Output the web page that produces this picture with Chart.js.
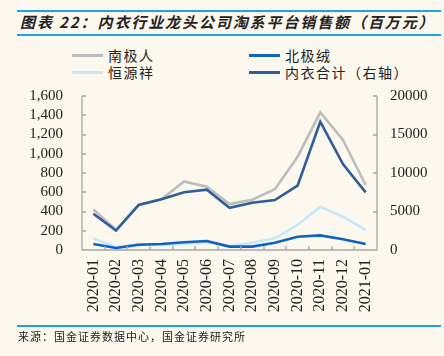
<!DOCTYPE html>
<html>
<head>
<meta charset="utf-8">
<script src="https://cdn.jsdelivr.net/npm/chart.js@4/dist/chart.umd.min.js"></script>
<style>
  html, body { margin:0; padding:0; }
  body { width:444px; height:356px; background:#FCF8EE; position:relative; overflow:hidden; font-family:"Noto Sans CJK SC", sans-serif; }
  #wrap { position:absolute; left:0; top:0; width:444px; height:356px; }
  .rule { position:absolute; left:17px; width:424px; height:2px; background:#1AA3E8; }
  #title { position:absolute; left:20px; top:12px; font-size:15px; font-weight:bold; font-style:italic; letter-spacing:1.9px; color:#222; white-space:nowrap; line-height:20px; }
  #legend { position:absolute; left:0; top:0; }
  .lg { position:absolute; height:16px; display:flex; align-items:center; white-space:nowrap; font-size:14px; letter-spacing:1.5px; color:#222; }
  .lg span.sw { display:inline-block; width:31px; height:3px; margin-right:5px; }
  #source { position:absolute; left:18px; top:328px; font-size:11px; letter-spacing:1px; color:#222; white-space:nowrap; line-height:16px; }
</style>
</head>
<body>
<div class="rule" style="top:10px"></div>
<div id="title">图表 22：内衣行业龙头公司淘系平台销售额（百万元）</div>
<div class="rule" style="top:34px"></div>
<div id="legend"></div>
<div id="wrap"><canvas id="c" width="444" height="356"></canvas></div>
<div class="rule" style="top:325px"></div>
<div id="source">来源：国金证券数据中心，国金证券研究所</div>
<script>
const categories = ['2020-01','2020-02','2020-03','2020-04','2020-05','2020-06','2020-07','2020-08','2020-09','2020-10','2020-11','2020-12','2021-01'];
const seriesNames = ['南极人','北极绒','恒源祥','内衣合计（右轴）'];
const nanjiren = [420, 210, 470, 528, 712, 658, 478, 522, 632, 968, 1430, 1143, 676];
const beijirong = [62, 21, 55, 62, 80, 94, 35, 35, 76, 138, 152, 111, 62];
const hengyuanxiang = [121, 30, 62, 50, 62, 80, 42, 76, 121, 260, 450, 346, 208];
const neiyiTotal = [4700, 2520, 5850, 6580, 7490, 7840, 5480, 6140, 6490, 8360, 16660, 11170, 7490];
const leftTicks = [0, 200, 400, 600, 800, 1000, 1200, 1400, 1600];
const rightTicks = [0, 5000, 10000, 15000, 20000];

const colors = ['#BDBDBD', '#1062C2', '#C6E8FA', '#2F5D99'];
const seriesData = [nanjiren, beijirong, hengyuanxiang, neiyiTotal];
const axisIds = ['y', 'y', 'y', 'y1'];
const orders = [3, 1, 2, 0];

// HTML legend built from the series names / colors
const legendPos = [[72, 47], [249, 47], [72, 64], [249, 64]];
const legendOrder = [0, 1, 2, 3];
const legendEl = document.getElementById('legend');
legendOrder.forEach((si, k) => {
  const d = document.createElement('div');
  d.className = 'lg';
  d.style.left = legendPos[k][0] + 'px';
  d.style.top = legendPos[k][1] + 'px';
  const sw = document.createElement('span');
  sw.className = 'sw';
  sw.style.background = colors[si];
  d.appendChild(sw);
  const t = document.createElement('span');
  t.textContent = seriesNames[si];
  d.appendChild(t);
  legendEl.appendChild(d);
});

const axisColor = '#A6A6A6';
const innerTicks = {
  id: 'innerTicks',
  afterDraw(chart) {
    const ctx = chart.ctx;
    const a = chart.chartArea;
    const x = chart.scales.x, y = chart.scales.y, y1 = chart.scales.y1;
    ctx.save();
    ctx.strokeStyle = axisColor;
    ctx.lineWidth = 1.3;
    ctx.beginPath();
    ctx.moveTo(a.left, a.top); ctx.lineTo(a.left, a.bottom); ctx.lineTo(a.right, a.bottom); ctx.lineTo(a.right, a.top);
    leftTicks.forEach(v => { const p = Math.round(y.getPixelForValue(v)); ctx.moveTo(a.left, p); ctx.lineTo(a.left + 4, p); });
    rightTicks.forEach(v => { const p = Math.round(y1.getPixelForValue(v)); ctx.moveTo(a.right, p); ctx.lineTo(a.right - 4, p); });
    for (let i = 0; i < categories.length - 1; i++) {
      const p = Math.round((x.getPixelForValue(i) + x.getPixelForValue(i + 1)) / 2);
      ctx.moveTo(p, a.bottom); ctx.lineTo(p, a.bottom - 4);
    }
    ctx.stroke();
    ctx.restore();
  }
};

new Chart(document.getElementById('c'), {
  type: 'line',
  data: {
    labels: categories,
    datasets: seriesNames.map((n, i) => ({
      label: n,
      data: seriesData[i],
      yAxisID: axisIds[i],
      borderColor: colors[i],
      backgroundColor: colors[i],
      borderWidth: 2.6,
      pointRadius: 0,
      tension: 0,
      order: orders[i]
    }))
  },
  options: {
    responsive: false,
    animation: false,
    events: [],
    layout: { padding: { top: 96, left: 0, right: 0, bottom: 0 } },
    plugins: { legend: { display: false }, tooltip: { enabled: false } },
    scales: {
      x: {
        offset: true,
        grid: { display: false, drawTicks: false },
        border: { display: false },
        ticks: { minRotation: 90, maxRotation: 90, autoSkip: false, padding: 9, color: '#222', font: { family: 'Liberation Serif', size: 16 } },
        afterFit(s) { s.height = 106; }
      },
      y: {
        position: 'left',
        min: 0, max: 1600,
        afterBuildTicks(s) { s.ticks = leftTicks.map(v => ({ value: v })); },
        grid: { display: false, drawTicks: false },
        border: { display: false },
        ticks: { autoSkip: false, padding: 19, color: '#222', font: { family: 'Liberation Serif', size: 15 },
          callback: v => v.toLocaleString('en-US') },
        afterFit(s) { s.width = 82; }
      },
      y1: {
        position: 'right',
        min: 0, max: 20000,
        afterBuildTicks(s) { s.ticks = rightTicks.map(v => ({ value: v })); },
        grid: { display: false, drawTicks: false },
        border: { display: false },
        ticks: { autoSkip: false, padding: 13, color: '#222', font: { family: 'Liberation Serif', size: 15 },
          callback: v => String(v) },
        afterFit(s) { s.width = 67; }
      }
    }
  },
  plugins: [innerTicks]
});
</script>
</body>
</html>
